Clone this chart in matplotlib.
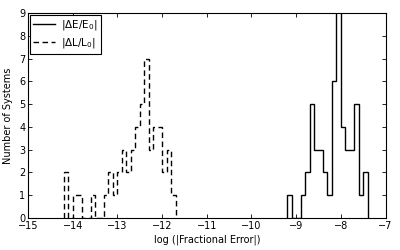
import numpy as np
import matplotlib
matplotlib.use('Agg')
import matplotlib.pyplot as plt

# histogram counts, bins of width 0.1
dE_start = -9.2
dE_counts = [1, 0, 0, 1, 2, 5, 3, 3, 2, 1, 6, 10, 4, 3, 3, 5, 1, 2]
dL_start = -14.2
dL_counts = [2, 0, 1, 1, 0, 0, 1, 0, 0, 1, 2, 1, 2, 3, 2, 3, 4, 5, 7, 3, 4, 4, 2, 3, 1]
bin_width = 0.1

plt.rcParams['font.size'] = 7
plt.rcParams['xtick.direction'] = 'in'
plt.rcParams['ytick.direction'] = 'in'
plt.rcParams['xtick.top'] = True
plt.rcParams['ytick.right'] = True

fig = plt.figure(figsize=(4, 2.5), dpi=100)
ax = fig.add_axes([0.07, 0.129, 0.894, 0.818])

dE_edges = dE_start + bin_width * np.arange(len(dE_counts) + 1)
dL_edges = dL_start + bin_width * np.arange(len(dL_counts) + 1)

ax.stairs(dE_counts, dE_edges, color='k', lw=1.0, label=r'|$\Delta$E/E$_0$|')
ax.stairs(dL_counts, dL_edges, color='k', lw=1.0, linestyle=(0, (4, 2.5)),
          label=r'|$\Delta$L/L$_0$|')

ax.set_xlim(-15, -7)
ax.set_ylim(0, 9)
ax.set_xticks(np.arange(-15, -6, 1))
ax.set_yticks(np.arange(0, 10, 1))
ax.tick_params(length=3, width=0.6, labelsize=7, pad=2)
for s in ax.spines.values():
    s.set_linewidth(0.8)

ax.set_xlabel('log (|Fractional Error|)', fontsize=7, labelpad=3)
ax.set_ylabel('Number of Systems', fontsize=7, labelpad=4)

leg = ax.legend(loc='upper left', fontsize=7.5, fancybox=False, framealpha=1,
                borderaxespad=0.15, handlelength=2.1, handletextpad=0.6,
                borderpad=0.35, labelspacing=0.35)
leg.get_frame().set_edgecolor('k')
leg.get_frame().set_linewidth(0.8)

fig.savefig('out.png', dpi=100)
